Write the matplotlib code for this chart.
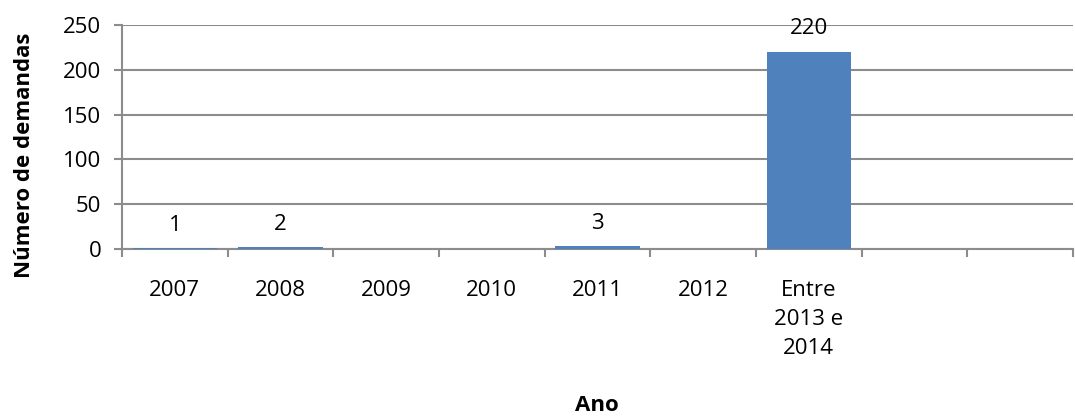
import numpy as np
import matplotlib.pyplot as plt

# dados
categorias = ["2007", "2008", "2009", "2010", "2011", "2012", "Entre\n2013 e\n2014", "", ""]
demandas = [1, 2, None, None, 3, None, 220, None, None]

plt.rcParams['font.family'] = ['Open Sans', 'DejaVu Sans']

fig = plt.figure(figsize=(10.75, 4.19), dpi=100)
ax = fig.add_axes([122 / 1075, 1 - 249 / 419, (1073 - 122) / 1075, (249 - 25) / 419])

x = np.arange(len(categorias))
valores = np.array([np.nan if v is None else v for v in demandas], dtype=float)
barras = ax.bar(x, np.nan_to_num(valores), width=0.8, color='#4F81BD', zorder=3)

for xi, v in zip(x, demandas):
    if v is not None:
        ax.annotate(str(v), (xi, v), xytext=(0, 9), textcoords='offset points',
                    ha='center', va='bottom', fontsize=16, zorder=4)

ax.set_xlim(-0.5, len(categorias) - 0.5)
ax.set_ylim(0, 250)
ax.set_yticks(np.arange(0, 251, 50))
ax.grid(axis='y', color='#8c8c8c', linewidth=1.5, zorder=0)

ax.set_xticks(x)
ax.set_xticklabels(categorias, fontsize=16, linespacing=1.5)
ax.set_xticks(np.arange(-0.5, len(categorias) + 0.5, 1), minor=True)
ax.tick_params(axis='x', which='major', length=0, pad=22)
ax.tick_params(axis='x', which='minor', length=6, width=1.5, color='#8c8c8c', direction='out')
ax.tick_params(axis='y', length=6, width=1.5, color='#8c8c8c', labelsize=16, pad=9)

for lado in ['top', 'right']:
    ax.spines[lado].set_visible(False)
ax.spines['left'].set_color('#8c8c8c')
ax.spines['left'].set_linewidth(1.5)
ax.spines['bottom'].set_color('#8c8c8c')
ax.spines['bottom'].set_linewidth(1.5)

fig.text(25 / 1075, 1 - 155 / 419, "Número de demandas", rotation=90, ha='center', va='center',
         fontsize=16, fontweight='bold')
fig.text(597 / 1075, 1 - 405 / 419, "Ano", ha='center', va='center', fontsize=16, fontweight='bold')

fig.savefig("out.png", dpi=100)
